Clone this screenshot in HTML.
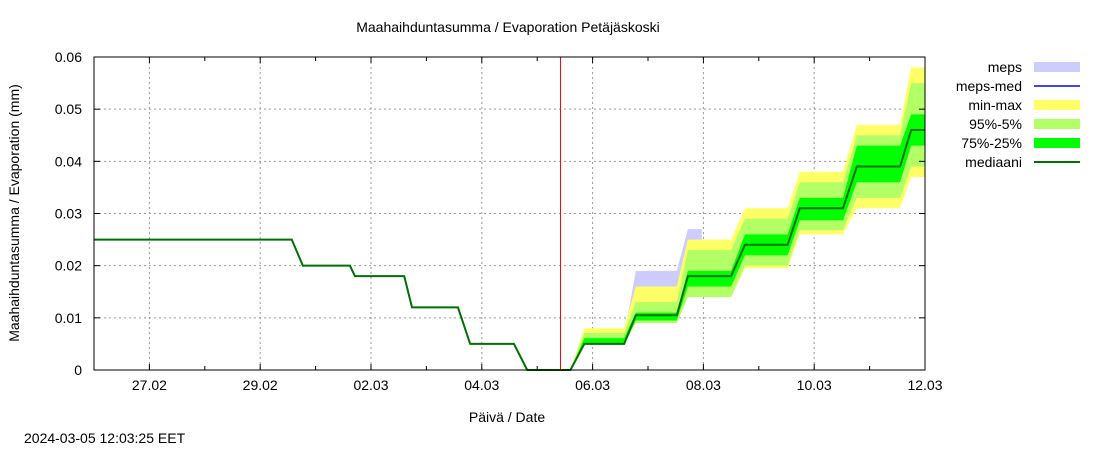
<!DOCTYPE html>
<html><head><meta charset="utf-8"><style>
body{margin:0;background:#fff;}
svg{display:block;font-family:"Liberation Sans",sans-serif;}
</style></head><body>
<svg id="chart" width="1100" height="450" viewBox="0 0 1100 450">
<rect width="1100" height="450" fill="#fff"/>
<text x="508" y="32" font-size="14" text-anchor="middle">Maahaihduntasumma / Evaporation   Petäjäskoski</text>
<text transform="translate(19,213) rotate(-90)" font-size="14" text-anchor="middle">Maahaihduntasumma / Evaporation (mm)</text>
<text x="507" y="422" font-size="14" text-anchor="middle">Päivä / Date</text>
<text x="24" y="443" font-size="14">2024-03-05 12:03:25 EET</text>
<g id="grid"></g>
<g id="bands"></g>
<g id="lines"></g>
<g id="axes"></g>
<g id="legend"></g>
</svg>
<script>
// Data: time in days since 26.02 00:00
const xTickLabels = ["27.02","29.02","02.03","04.03","06.03","08.03","10.03","12.03"];
const xTickDays = [1,3,5,7,9,11,13,15];
const yTicks = [0,0.01,0.02,0.03,0.04,0.05,0.06];
const yTickLabels = ["0","0.01","0.02","0.03","0.04","0.05","0.06"];
const forecastDay = 8.42;
// history + forecast median (piecewise linear points)
const medT = [0,3.57,3.77,4.62,4.71,5.6,5.74,6.57,6.79,7.58,7.82,8.6,8.85,9.57,9.78,10.52,10.72,11.5,11.75,12.52,12.74,13.52,13.77,14.55,14.75,15];
const medV = [0.025,0.025,0.020,0.020,0.018,0.018,0.012,0.012,0.005,0.005,0,0,0.005,0.005,0.0105,0.0105,0.018,0.018,0.024,0.024,0.031,0.031,0.039,0.039,0.046,0.046];
// forecast plateaus
const platStart = [8.45,8.85,9.78,10.72,11.75,12.74,13.77,14.75];
const platEnd = [8.6,9.57,10.52,11.5,12.52,13.52,14.55,15];
const minV = [0,0.005,0.009,0.014,0.0195,0.026,0.031,0.037];
const maxV = [0,0.008,0.016,0.025,0.031,0.038,0.047,0.058];
const p5V = [0,0.005,0.009,0.014,0.020,0.0268,0.033,0.039];
const p95V = [0,0.0071,0.013,0.023,0.029,0.036,0.045,0.055];
const p25V = [0,0.005,0.0095,0.016,0.022,0.0287,0.036,0.043];
const p75V = [0,0.0061,0.011,0.019,0.026,0.033,0.043,0.049];
const mepsMinV = [0,0.005,0.009,0.014];
const mepsMaxV = [0,0.0065,0.019,0.027];
const mepsEnd = 10.97;

const X0=94,X1=925,Y0=370,Y1=57,DAYS=15,YMAX=0.06;
const x=t=>X0+t*(X1-X0)/DAYS;
const y=v=>Y0-v*(Y0-Y1)/YMAX;
const NS="http://www.w3.org/2000/svg";
function mk(tag,attrs,parent){const e=document.createElementNS(NS,tag);for(const k in attrs)e.setAttribute(k,attrs[k]);parent.appendChild(e);return e;}
const grid=document.getElementById('grid'),bands=document.getElementById('bands'),lines=document.getElementById('lines'),axes=document.getElementById('axes'),legend=document.getElementById('legend');

xTickDays.forEach((d,i)=>{
  const l=mk('line',{x1:x(d),x2:x(d),y1:Y1,y2:Y0,stroke:'#999','stroke-dasharray':'2,3'},grid);
  
  
  const t=mk('text',{x:x(d),y:Y0+20,'font-size':14,'text-anchor':'middle'},axes);
  t.textContent=xTickLabels[i];
  
  
});
yTicks.forEach((v,i)=>{
  if(v>0&&v<YMAX){const l=mk('line',{x1:X0,x2:X1,y1:y(v),y2:y(v),stroke:'#999','stroke-dasharray':'2,3'},grid);
  
  }
  const t=mk('text',{x:X0-12,y:y(v)+5,'font-size':14,'text-anchor':'end'},axes);
  t.textContent=yTickLabels[i];
  
  
  mk('line',{x1:X0,x2:X0+6,y1:y(v),y2:y(v),stroke:'#000'},axes);
  mk('line',{x1:X1-6,x2:X1,y1:y(v),y2:y(v),stroke:'#000'},axes);
});
for(let d=1;d<DAYS;d++){
  const len=(d%2===1)?6:4;
  mk('line',{x1:x(d),x2:x(d),y1:Y0,y2:Y0-len,stroke:'#000'},axes);
  mk('line',{x1:x(d),x2:x(d),y1:Y1,y2:Y1+len,stroke:'#000'},axes);
}

function band(lo,hi,n,endOverride,fill,name){
  const up=[],dn=[];
  for(let i=0;i<n;i++){
    const e=(i===n-1&&endOverride)?endOverride:platEnd[i];
    up.push([x(platStart[i]),y(hi[i])],[x(e),y(hi[i])]);
    dn.push([x(platStart[i]),y(lo[i])],[x(e),y(lo[i])]);
  }
  const pts=up.concat(dn.reverse()).map(p=>p.join(',')).join(' ');
  const p=mk('polygon',{points:pts,fill:fill},bands);
  
  
}
band(mepsMinV,mepsMaxV,4,mepsEnd,'#ccccff','meps-band');
band(minV,maxV,8,null,'#ffff66','min-max-band');
band(p5V,p95V,8,null,'#b3ff66','p95-p5-band');
band(p25V,p75V,8,null,'#00ff00','p75-p25-band');

const med=mk('polyline',{points:medT.map((t,i)=>x(t)+','+y(medV[i])).join(' '),fill:'none',stroke:'#007000','stroke-width':2},lines);


const fl=mk('line',{x1:x(forecastDay),x2:x(forecastDay),y1:Y1,y2:Y0,stroke:'#ff0000','stroke-width':1},lines);



mk('rect',{x:X0,y:Y1,width:X1-X0,height:Y0-Y1,fill:'none',stroke:'#000','stroke-width':1},axes);

const legNames=["meps","meps-med","min-max","95%-5%","75%-25%","mediaani"];
const legRows=[67,86,105,124,143,162];
legNames.forEach((n,i)=>{
  const g=mk('g',{},legend);
  
  
  const t=mk('text',{x:1022,y:legRows[i]+5,'font-size':14,'text-anchor':'end'},g);
  t.textContent=n;
  const yy=legRows[i];
  if(i===0) mk('rect',{x:1034,y:yy-5,width:46,height:10,fill:'#ccccff'},g);
  if(i===1) mk('line',{x1:1034,x2:1080,y1:yy,y2:yy,stroke:'#4444ee','stroke-width':2},g);
  if(i===2) mk('rect',{x:1034,y:yy-5,width:46,height:10,fill:'#ffff66'},g);
  if(i===3) mk('rect',{x:1034,y:yy-5,width:46,height:10,fill:'#b3ff66'},g);
  if(i===4) mk('rect',{x:1034,y:yy-5,width:46,height:10,fill:'#00ff00'},g);
  if(i===5) mk('line',{x1:1034,x2:1080,y1:yy,y2:yy,stroke:'#007000','stroke-width':2},g);
});
</script>
</body></html>
